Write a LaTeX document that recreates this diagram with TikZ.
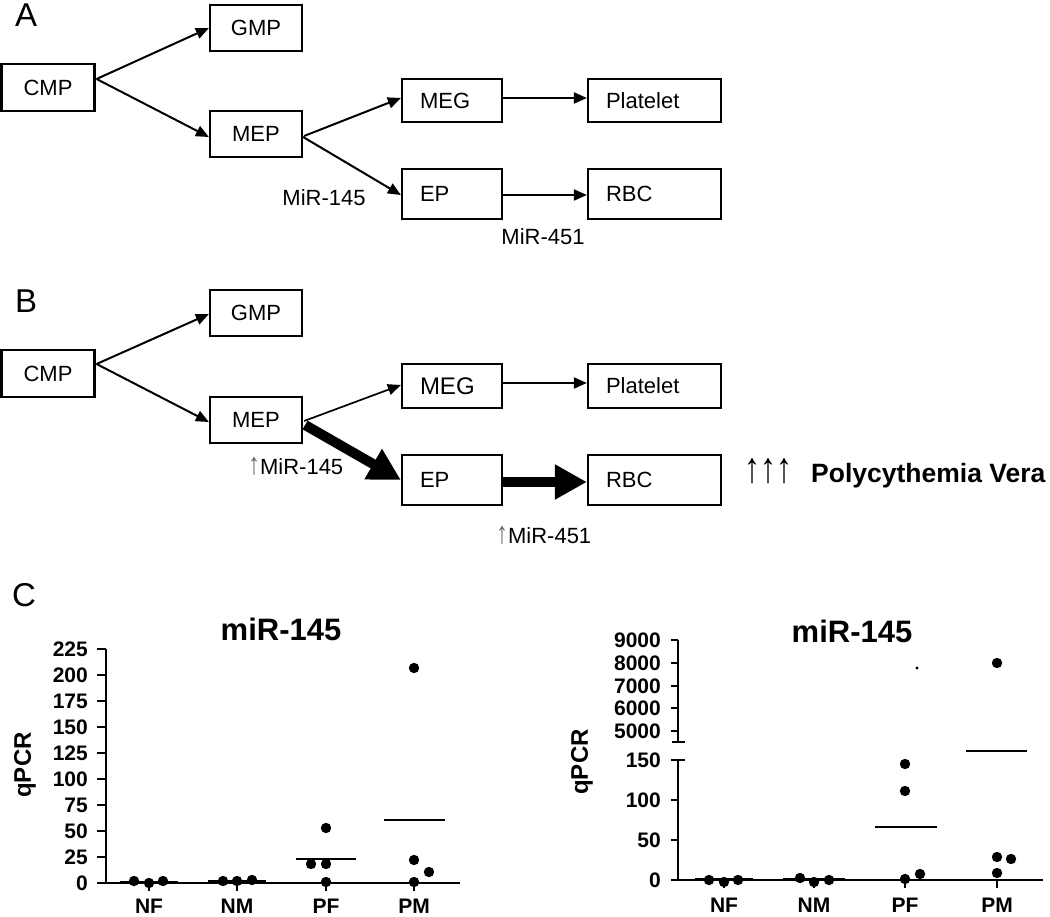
\documentclass[tikz,border=0pt]{standalone}
\usepackage{fontspec}
\setmainfont{Liberation Sans}
\usetikzlibrary{arrows.meta,calc}
\newcommand\myfs[1]{\fontsize{#1pt}{#1pt}\selectfont}
\newcommand\uparr{{\myfs{28}\scalebox{0.85}[1.1]{↑}}}
\newcommand\bigup{{\myfs{32}\scalebox{1}[1.35]{↑}}}
\begin{document}
\begin{tikzpicture}[x=1pt,y=-1pt,
  box/.style={draw, line width=2.2pt, inner sep=0pt, text height=15.8pt, text depth=0pt, font=\myfs{22}},
  cbox/.style={box, minimum width=92pt, minimum height=46pt},
  sbox/.style={box, text width=64pt, inner xsep=18pt, align=left, minimum height=#1},
  wbox/.style={box, text width=97pt, inner xsep=18pt, align=left, minimum height=#1},
  arr/.style={line width=2pt, -{Triangle[length=13pt,width=11pt]}},
  bigarr/.style={line width=10pt, -{Triangle[length=32pt,width=33pt]}},
  lbl/.style={inner sep=0pt, font=\myfs{22}},
  plet/.style={inner sep=0pt, anchor=base west, font=\myfs{33}},
  axis/.style={line width=2.5pt},
  tk/.style={inner sep=0pt, anchor=east, font=\myfs{21}\bfseries},
  cat/.style={inner sep=0pt, anchor=base, font=\myfs{21}\bfseries},
  ttl/.style={inner sep=0pt, anchor=base, font=\myfs{31}\bfseries},
  ylab/.style={inner sep=0pt, rotate=90, font=\myfs{24}\bfseries},
  mean/.style={line width=2.3pt},
]
\useasboundingbox (0,0) rectangle (1050,917);

% ---------- Panel A ----------
\node[plet] (labA) at (15,27) {A};
\node[cbox] (gmpA) at (256,28) {GMP};
\node[cbox, minimum width=93pt, minimum height=47pt] (cmpA) at (48,87.5) {CMP};
\node[cbox] (mepA) at (256,134) {MEP};
\node[sbox=43pt] (megA) at (452,100.5) {MEG};
\node[wbox=43pt] (platA) at (654.5,100.5) {Platelet};
\node[sbox=50pt] (epA) at (452,194) {EP};
\node[wbox=50pt] (rbcA) at (654.5,194) {RBC};

\draw[arr] ($(cmpA.east)+(1,-8.5)$) -- (gmpA.west);
\draw[arr] ($(cmpA.east)+(1,-8.5)$) -- ($(mepA.west)+(0,3)$);
\draw[arr] ($(mepA.east)+(1,2)$) -- ($(megA.west)+(0,-2.5)$);
\draw[arr] ($(mepA.east)+(0,3)$) -- ($(epA.west)+(0,1)$);
\draw[arr] ($(megA.east)+(0,-2.5)$) -- ($(platA.west)+(0,-2.5)$);
\draw[arr] ($(epA.east)+(0,1)$) -- ($(rbcA.west)+(0,1)$);
\node[lbl] (m145A) at (324,198) {MiR-145};
\node[lbl] (m451A) at (543,237) {MiR-451};

% ---------- Panel B ----------
\node[plet] (labB) at (15,313) {B};
\node[cbox] (gmpB) at (256,313) {GMP};
\node[cbox, minimum width=93pt, minimum height=47pt] (cmpB) at (48,373.5) {CMP};
\node[cbox] (mepB) at (256,420) {MEP};
\node[sbox=44pt, font=\myfs{24}, text height=17.2pt] (megB) at (452,386) {MEG};
\node[wbox=44pt] (platB) at (654.5,386) {Platelet};
\node[sbox=50pt] (epB) at (452,480) {EP};
\node[wbox=50pt] (rbcB) at (654.5,480) {RBC};

\draw[arr] ($(cmpB.east)+(1,-9.5)$) -- ($(gmpB.west)+(0,1)$);
\draw[arr] ($(cmpB.east)+(1,-9.5)$) -- ($(mepB.west)+(0,2)$);
\draw[arr, line width=1.7pt] ($(mepB.east)+(1,1)$) -- ($(megB.west)+(0,-1)$);
\draw[bigarr] ($(mepB.east)+(2,5)$) -- (epB.west);
\draw[arr] ($(megB.east)+(0,-3)$) -- ($(platB.west)+(0,-3)$);
\draw[bigarr] ($(epB.east)+(0,2)$) -- ($(rbcB.west)+(0,2)$);
\node[lbl, anchor=base west] (m145B) at (248,474) {\textcolor{black!60}{\uparr}MiR-145};
\node[lbl, anchor=base west] (m451B) at (496,543) {\textcolor{black!60}{\uparr}MiR-451};
\node[lbl, anchor=base west] (upB) at (744,482) {\bigup\bigup\bigup};
\node[inner sep=0pt, anchor=base west, font=\myfs{26.5}\bfseries] (pv) at (811,482) {Polycythemia Vera};

% ---------- Panel C ----------
\node[plet] (labC) at (12,606) {C};

% left chart
\draw[axis] (106,649) -- (106,883) -- (460,883);
\foreach \v [count=\k from 0] in {0,25,50,75,100,125,150,175,200,225} {
  \draw[axis] (97,{883-26*\k}) -- (106,{883-26*\k});
  \node[tk] at (88,{883-26*\k}) {\v};
}
\foreach \x/\t in {149/NF,237/NM,326/PF,414/PM} {
  \draw[axis] (\x,883) -- (\x,891);
  \node[cat] at (\x,913) {\t};
}
\node[ttl] (t1) at (281,640) {miR-145};
\node[ylab] (y1) at (25,765) {qPCR};
\foreach \p in {(134,881),(149,883),(163,881),(223,881),(237,881),(252,880),
                (326,828),(311,864),(326,864),(326,882),
                (414,668),(414,860),(429,872),(414,882)} {
  \fill \p circle (5.2pt);
}
\draw[mean] (120,882) -- (178,882);
\draw[mean] (208,881) -- (266,881);
\draw[mean] (296,859) -- (356,859);
\draw[mean] (384,820) -- (445,820);

% right chart
\draw[axis] (678,640) -- (678,742);
\draw[axis] (672,742) -- (685,742);
\draw[axis] (671,760) -- (685,760);
\draw[axis] (678,760) -- (678,880) -- (1043,880);
\foreach \y/\v in {640/9000,663/8000,686/7000,708/6000,731/5000} {
  \draw[axis] (671,\y) -- (678,\y);
  \node[tk] at (661,\y) {\v};
}
\foreach \y/\v in {760/150,800/100,840/50,880/0} {
  \draw[axis] (671,\y) -- (678,\y);
  \node[tk] at (661,\y) {\v};
}
\foreach \x/\t in {724/NF,814/NM,905/PF,997/PM} {
  \draw[axis] (\x,880) -- (\x,888);
  \node[cat] at (\x,912) {\t};
}
\node[ttl] (t2) at (852,642) {miR-145};
\node[ylab] (y2) at (582,762) {qPCR};
\foreach \p in {(709,880),(724,882),(738,880),(800,878),(814,882),(829,880),
                (905,764),(905,791),(905,879),(920,874),
                (997,663),(997,857),(1011,859),(997,873)} {
  \fill \p circle (5.2pt);
}
\fill (917,668) circle (1.6pt);
\draw[mean] (695,879) -- (753,879);
\draw[mean] (783,879) -- (845,879);
\draw[mean] (875,827) -- (937,827);
\draw[mean] (966,751) -- (1027,751);
\end{tikzpicture}
\end{document}
